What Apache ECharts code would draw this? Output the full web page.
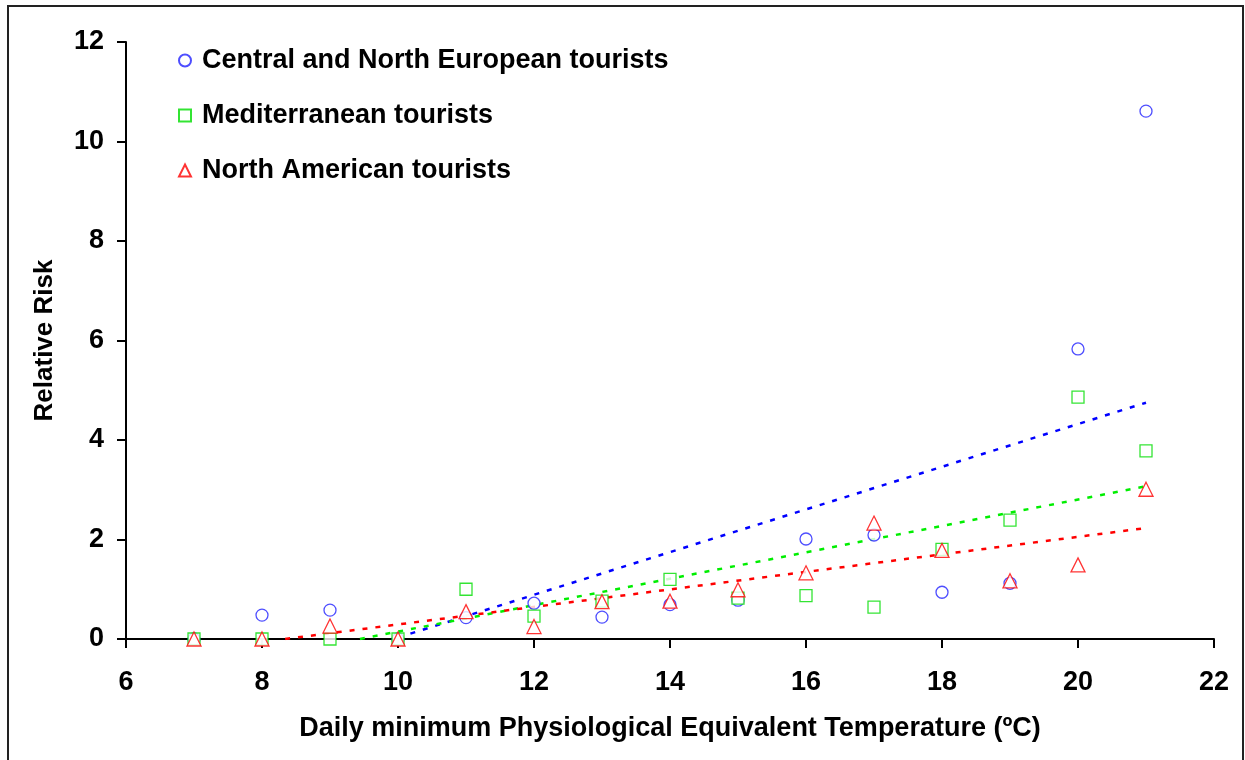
<!DOCTYPE html>
<html><head><meta charset="utf-8">
<script src="https://cdn.jsdelivr.net/npm/echarts@6/dist/echarts.min.js"></script>
<style>html,body{margin:0;padding:0;background:#fff}#c{width:1245px;height:760px}</style>
</head><body><div id="c"></div>
<script>
const temps = [7,8,9,10,11,12,13,14,15,16,17,18,19,20,21];
const centralNorth = [0,0.48,0.58,0,0.43,0.72,0.44,0.69,0.78,2.01,2.09,0.94,1.12,5.83,10.61];
const mediterranean = [0,0,0,0,1.0,0.46,0.76,1.2,0.82,0.87,0.64,1.8,2.39,4.86,3.78];
const northAmerican = [0,0,0.26,0,0.55,0.25,0.75,0.76,0.99,1.33,2.33,1.78,1.17,1.49,3.01];
// linear trend line end points [x, y]
const trendCentral = [[10,0.03],[21,4.75]];
const trendMed = [[9.44,0],[21,3.07]];
const trendNA = [[8.34,0],[21,2.23]];
const xTicks = [6,8,10,12,14,16,18,20,22];
const yTicks = [0,2,4,6,8,10,12];
const names = ['Central and North European tourists','Mediterranean tourists','North American tourists'];

const FONT = '"Liberation Sans", Arial, sans-serif';
const chart = echarts.init(document.getElementById('c'));
const pts = a => temps.map((t,i)=>[t,a[i]]);
const scatter = (name, data, symbol, color, size) => ({
  name, type:'scatter', data: pts(data), symbol, symbolSize: size,
  itemStyle:{color:'#fff', borderColor:color, borderWidth:1.3}, z:3
});
const trend = (data, color) => ({
  type:'line', data, symbol:'none', silent:true, z:2,
  lineStyle:{color, width:2.5, type:[5,8]}
});
chart.setOption({
  animation:false,
  backgroundColor:'#fff',
  graphic:[{type:'rect', shape:{x:8,y:6,width:1235,height:770}, style:{fill:'none', stroke:'#222', lineWidth:2}}],
  grid:{left:126, right:31, top:42, bottom:121},
  legend:{
    orient:'vertical', left:173, top:42, itemGap:28, itemWidth:12, itemHeight:12,
    data: names,
    textStyle:{fontFamily:FONT, fontWeight:'bold', fontSize:27, color:'#000', padding:[0,0,0,6]}
  },
  xAxis:{
    type:'value', min:xTicks[0], max:xTicks[xTicks.length-1], interval:2,
    name:'Daily minimum Physiological Equivalent Temperature (ºC)',
    nameLocation:'middle', nameGap:76,
    nameTextStyle:{fontFamily:FONT, fontWeight:'bold', fontSize:27, color:'#000'},
    axisLine:{onZero:false, lineStyle:{color:'#000', width:2}},
    axisTick:{show:true, inside:false, length:9, lineStyle:{color:'#000', width:2}},
    axisLabel:{margin:30, fontFamily:FONT, fontWeight:'bold', fontSize:27, color:'#000'},
    splitLine:{show:false}
  },
  yAxis:{
    type:'value', min:yTicks[0], max:yTicks[yTicks.length-1], interval:2,
    name:'Relative Risk', nameLocation:'middle', nameGap:68,
    nameTextStyle:{fontFamily:FONT, fontWeight:'bold', fontSize:26, color:'#000'},
    axisLine:{show:true, lineStyle:{color:'#000', width:2}},
    axisTick:{show:true, inside:false, length:9, lineStyle:{color:'#000', width:2}},
    axisLabel:{margin:22, fontFamily:FONT, fontWeight:'bold', fontSize:27, color:'#000'},
    splitLine:{show:false}
  },
  series:[
    trend(trendCentral,'#0000ff'),
    trend(trendMed,'#00ee00'),
    trend(trendNA,'#ff0000'),
    scatter(names[0], centralNorth, 'circle', '#2222ff', 12),
    scatter(names[1], mediterranean, 'rect', '#00dd00', 12),
    scatter(names[2], northAmerican, 'triangle', '#ff0000', 14)
  ]
});
</script></body></html>
